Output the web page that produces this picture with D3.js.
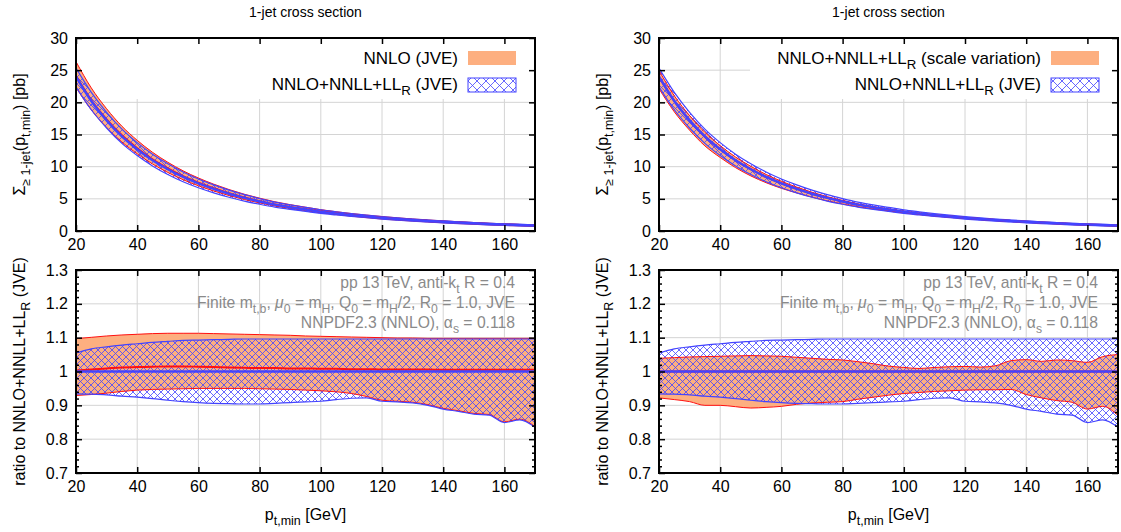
<!DOCTYPE html>
<html><head><meta charset="utf-8">
<script src="https://cdn.jsdelivr.net/npm/d3@7"></script>
<style>body{margin:0;background:#fff}svg{display:block}text{font-family:"Liberation Sans",Arial,Helvetica,sans-serif}</style>
</head><body><svg id="c" width="1121" height="532"></svg>
<script>
// ---------------- data ----------------
const pt = [20,25,30,35,40,45,50,55,60,65,70,75,80,85,90,95,100,105,110,115,120,125,130,135,140,145,150,155,160,165,170];
// central NNLO+NNLL+LL_R (JVE) cross section [pb]
const sigmaCentral = [24.0,20.2,17.2,14.7,12.7,11.0,9.6,8.4,7.4,6.55,5.8,5.15,4.6,4.1,3.7,3.35,3.0,2.72,2.46,2.24,2.04,1.86,1.70,1.56,1.43,1.31,1.20,1.10,1.01,0.93,0.86];
// ratios to NNLO+NNLL+LL_R (JVE) central
const jveHi = [1.055,1.067,1.073,1.078,1.082,1.086,1.089,1.092,1.093,1.094,1.095,1.096,1.096,1.096,1.096,1.096,1.096,1.096,1.096,1.096,1.096,1.096,1.096,1.096,1.096,1.096,1.096,1.096,1.096,1.096,1.096];
const jveLo = [0.934,0.933,0.931,0.927,0.924,0.920,0.915,0.911,0.908,0.906,0.905,0.904,0.904,0.906,0.908,0.910,0.912,0.917,0.921,0.922,0.912,0.910,0.907,0.900,0.889,0.882,0.874,0.871,0.849,0.857,0.835];
const nnloHi = [1.097,1.101,1.105,1.108,1.110,1.112,1.113,1.113,1.113,1.112,1.111,1.110,1.109,1.108,1.107,1.105,1.104,1.103,1.102,1.101,1.100,1.099,1.099,1.098,1.098,1.098,1.098,1.098,1.098,1.098,1.098];
const nnloLo = [0.929,0.932,0.936,0.941,0.945,0.947,0.948,0.949,0.950,0.950,0.950,0.950,0.949,0.948,0.947,0.945,0.943,0.940,0.935,0.926,0.915,0.912,0.909,0.902,0.891,0.884,0.876,0.873,0.851,0.859,0.837];
const nnloCen = [1.003,1.006,1.009,1.012,1.013,1.014,1.015,1.015,1.014,1.013,1.012,1.011,1.010,1.010,1.009,1.009,1.008,1.008,1.007,1.007,1.006,1.006,1.006,1.006,1.005,1.005,1.005,1.005,1.005,1.005,1.005];
const scaleHi = [1.039,1.041,1.043,1.044,1.045,1.046,1.047,1.046,1.045,1.042,1.039,1.036,1.034,1.029,1.023,1.016,1.012,1.009,1.012,1.014,1.015,1.013,1.017,1.032,1.035,1.030,1.034,1.032,1.027,1.044,1.050];
const scaleLo = [0.922,0.917,0.911,0.900,0.900,0.896,0.892,0.894,0.897,0.903,0.907,0.909,0.911,0.918,0.924,0.930,0.935,0.938,0.941,0.943,0.945,0.946,0.946,0.947,0.932,0.922,0.914,0.909,0.889,0.897,0.870];
const scaleCen = pt.map(() => 1.0);

const xTicks = [20,40,60,80,100,120,140,160];
const yTicksTop = [0,5,10,15,20,25,30];
const yTicksRatio = [0.7,0.8,0.9,1.0,1.1,1.2,1.3];
const yRatioLabels = ["0.7","0.8","0.9","1","1.1","1.2","1.3"];
const yMinorRatio = d3.range(0.7,1.3001,0.02).map(v=>+v.toFixed(2)).filter(v=>!yTicksRatio.some(t=>Math.abs(t-v)<1e-6));

const titleText = "1-jet cross section";
const annotations = [
  [["pp 13 TeV, anti-k"],["t","sub"],[" R = 0.4"]],
  [["Finite m"],["t,b","sub"],[", "],["μ","it"],["0","sub"],[" = m"],["H","sub"],[", Q"],["0","sub"],[" = m"],["H","sub"],["/2, R"],["0","sub"],[" = 1.0, JVE"]],
  [["NNPDF2.3 (NNLO), α"],["s","sub"],[" = 0.118"]]
];

// ---------------- style ----------------
const ORANGE = "#fdaf80", RED = "#ff1010", BLUE = "#4343ff";
const svg = d3.select("#c");
const defs = svg.append("defs");
function makeHatch(id, s){
  const p = defs.append("pattern").attr("id",id).attr("patternUnits","userSpaceOnUse").attr("width",s).attr("height",s);
  p.append("path").attr("d",`M0,0L${s},${s}M${s},0L0,${s}`).attr("stroke",BLUE).attr("stroke-width",0.8).attr("fill","none");
}
makeHatch("hatch", 7);
makeHatch("hatchKey", 9);

function rich(textSel, parts, size){
  let shifted = false;
  parts.forEach(([s,type])=>{
    const t = textSel.append("tspan").text(s);
    if(type==="sub"){
      t.attr("font-size", size*0.78).attr("dy", shifted?0:size*0.3);
      shifted = true;
    } else {
      t.attr("font-size", size);
      if(shifted){ t.attr("dy", -size*0.3); shifted=false; }
      if(type==="it") t.attr("font-style","italic");
    }
  });
  return textSel;
}

const panels = [
  {x0:76, x1:535, lo:nnloLo, hi:nnloHi, cen:nnloCen,
   legend1:[["NNLO (JVE)"]], legendBoxX:77},
  {x0:659, x1:1118, lo:scaleLo, hi:scaleHi, cen:scaleCen,
   legend1:[["NNLO+NNLL+LL"],["R","sub"],[" (scale variation)"]], legendBoxX:750}
];
const legend2 = [["NNLO+NNLL+LL"],["R","sub"],[" (JVE)"]];

const TOP = {y0:38, y1:231}, BOT = {y0:270, y1:473};

panels.forEach((P,i)=>{
  const x = d3.scaleLinear().domain([20,170]).range([P.x0,P.x1]);
  const yT = d3.scaleLinear().domain([0,30]).range([TOP.y1,TOP.y0]);
  const yR = d3.scaleLinear().domain([0.7,1.3]).range([BOT.y1,BOT.y0]);
  const cx = (P.x0+P.x1)/2;

  // title
  svg.append("text").attr("x",cx).attr("y",17).attr("text-anchor","middle").attr("font-size",14).text(titleText);

  function grid(y, yvals){
    const g = svg.append("g").attr("stroke","#d4d4d4").attr("stroke-width",1);
    xTicks.forEach(v=>g.append("line").attr("x1",x(v)).attr("x2",x(v)).attr("y1",y.range()[1]).attr("y2",y.range()[0]));
    yvals.forEach(v=>g.append("line").attr("x1",P.x0).attr("x2",P.x1).attr("y1",y(v)).attr("y2",y(v)));
  }
  grid(yT, yTicksTop);
  grid(yR, yTicksRatio);

  // legend background (covers grid, behind data)
  svg.append("rect").attr("x",P.legendBoxX).attr("y",TOP.y0+1).attr("width",P.x1-1-P.legendBoxX).attr("height",60).attr("fill","#fff");

  const clipT = "clipT"+i, clipR = "clipR"+i;
  defs.append("clipPath").attr("id",clipT).append("rect").attr("x",P.x0).attr("y",TOP.y0).attr("width",P.x1-P.x0).attr("height",TOP.y1-TOP.y0);
  defs.append("clipPath").attr("id",clipR).append("rect").attr("x",P.x0).attr("y",BOT.y0).attr("width",P.x1-P.x0).attr("height",BOT.y1-BOT.y0);

  function bands(g, y, f){
    const area = (lo,hi)=>d3.area().x((d,k)=>x(pt[k])).y0((d,k)=>y(f(k)*lo[k])).y1((d,k)=>y(f(k)*hi[k])).curve(d3.curveMonotoneX)(pt);
    const line = (arr)=>d3.line().x((d,k)=>x(pt[k])).y((d,k)=>y(f(k)*arr[k])).curve(d3.curveMonotoneX)(pt);
    g.append("path").attr("d",area(P.lo,P.hi)).attr("fill",ORANGE);
    g.append("path").attr("d",area(jveLo,jveHi)).attr("fill","url(#hatch)");
    [P.lo,P.hi].forEach(a=>g.append("path").attr("d",line(a)).attr("fill","none").attr("stroke",RED).attr("stroke-width",1));
    [jveLo,jveHi].forEach(a=>g.append("path").attr("d",line(a)).attr("fill","none").attr("stroke",BLUE).attr("stroke-width",1.2));
    g.append("path").attr("d",line(P.cen)).attr("fill","none").attr("stroke",RED).attr("stroke-width",2);
    g.append("path").attr("d",line(pt.map(()=>1))).attr("fill","none").attr("stroke",BLUE).attr("stroke-width",2.5);
  }
  bands(svg.append("g").attr("clip-path",`url(#${clipT})`), yT, k=>sigmaCentral[k]);
  bands(svg.append("g").attr("clip-path",`url(#${clipR})`), yR, k=>1);

  // legend
  const txR = P.x0+382, swX = P.x0+392, swW = 48;
  rich(svg.append("text").attr("x",txR).attr("y",64).attr("text-anchor","end"), P.legend1, 17);
  svg.append("rect").attr("x",swX).attr("y",51).attr("width",swW).attr("height",14).attr("fill",ORANGE);
  rich(svg.append("text").attr("x",txR).attr("y",90).attr("text-anchor","end"), legend2, 17);
  svg.append("rect").attr("x",swX).attr("y",78).attr("width",swW).attr("height",14).attr("fill","url(#hatchKey)").attr("stroke",BLUE).attr("stroke-width",1);

  // annotations
  annotations.forEach((a,k)=>{
    rich(svg.append("text").attr("x",P.x1-20).attr("y",288+k*20).attr("text-anchor","end").attr("fill","#8a8a8a"), a, 15.7);
  });

  // axes
  function axes(y, yvals, ylabels, minor){
    const y0 = y.range()[1], y1 = y.range()[0];
    const style = g=>{ g.select(".domain").remove(); g.selectAll(".tick line").attr("stroke","#000").attr("stroke-width",1.5);
      g.selectAll(".tick text").attr("font-size",16).attr("fill","#000").attr("font-family",'"Liberation Sans",Arial,sans-serif'); };
    svg.append("g").attr("transform",`translate(0,${y1})`).call(d3.axisBottom(x).tickValues(xTicks).tickSize(-6).tickPadding(8).tickFormat(d3.format("d"))).call(style);
    svg.append("g").attr("transform",`translate(0,${y0})`).call(d3.axisTop(x).tickValues(xTicks).tickSize(-6).tickFormat("")).call(style);
    svg.append("g").attr("transform",`translate(${P.x0},0)`).call(d3.axisLeft(y).tickValues(yvals).tickSize(-6).tickPadding(8).tickFormat((d,k)=>ylabels[k])).call(style);
    svg.append("g").attr("transform",`translate(${P.x1},0)`).call(d3.axisRight(y).tickValues(yvals).tickSize(-6).tickFormat("")).call(style);
    if(minor){
      svg.append("g").attr("transform",`translate(${P.x0},0)`).call(d3.axisLeft(y).tickValues(minor).tickSize(-3).tickFormat("")).call(style);
      svg.append("g").attr("transform",`translate(${P.x1},0)`).call(d3.axisRight(y).tickValues(minor).tickSize(-3).tickFormat("")).call(style);
    }
    svg.append("rect").attr("x",P.x0).attr("y",y0).attr("width",P.x1-P.x0).attr("height",y1-y0).attr("fill","none").attr("stroke","#000").attr("stroke-width",2);
  }
  axes(yT, yTicksTop, yTicksTop.map(String), null);
  axes(yR, yTicksRatio, yRatioLabels, yMinorRatio);

  // axis labels
  const lx = P.x0-51;
  rich(svg.append("text").attr("transform",`translate(${lx},${(TOP.y0+TOP.y1)/2}) rotate(-90)`).attr("text-anchor","middle"),
    [["Σ"],["≥ 1-jet","sub"],["(p"],["t,min","sub"],[") [pb]"]], 16);
  rich(svg.append("text").attr("transform",`translate(${lx},${(BOT.y0+BOT.y1)/2}) rotate(-90)`).attr("text-anchor","middle"),
    [["ratio to NNLO+NNLL+LL"],["R","sub"],[" (JVE)"]], 16);
  rich(svg.append("text").attr("x",cx).attr("y",520).attr("text-anchor","middle"),
    [["p"],["t,min","sub"],[" [GeV]"]], 16);
});
</script></body></html>
